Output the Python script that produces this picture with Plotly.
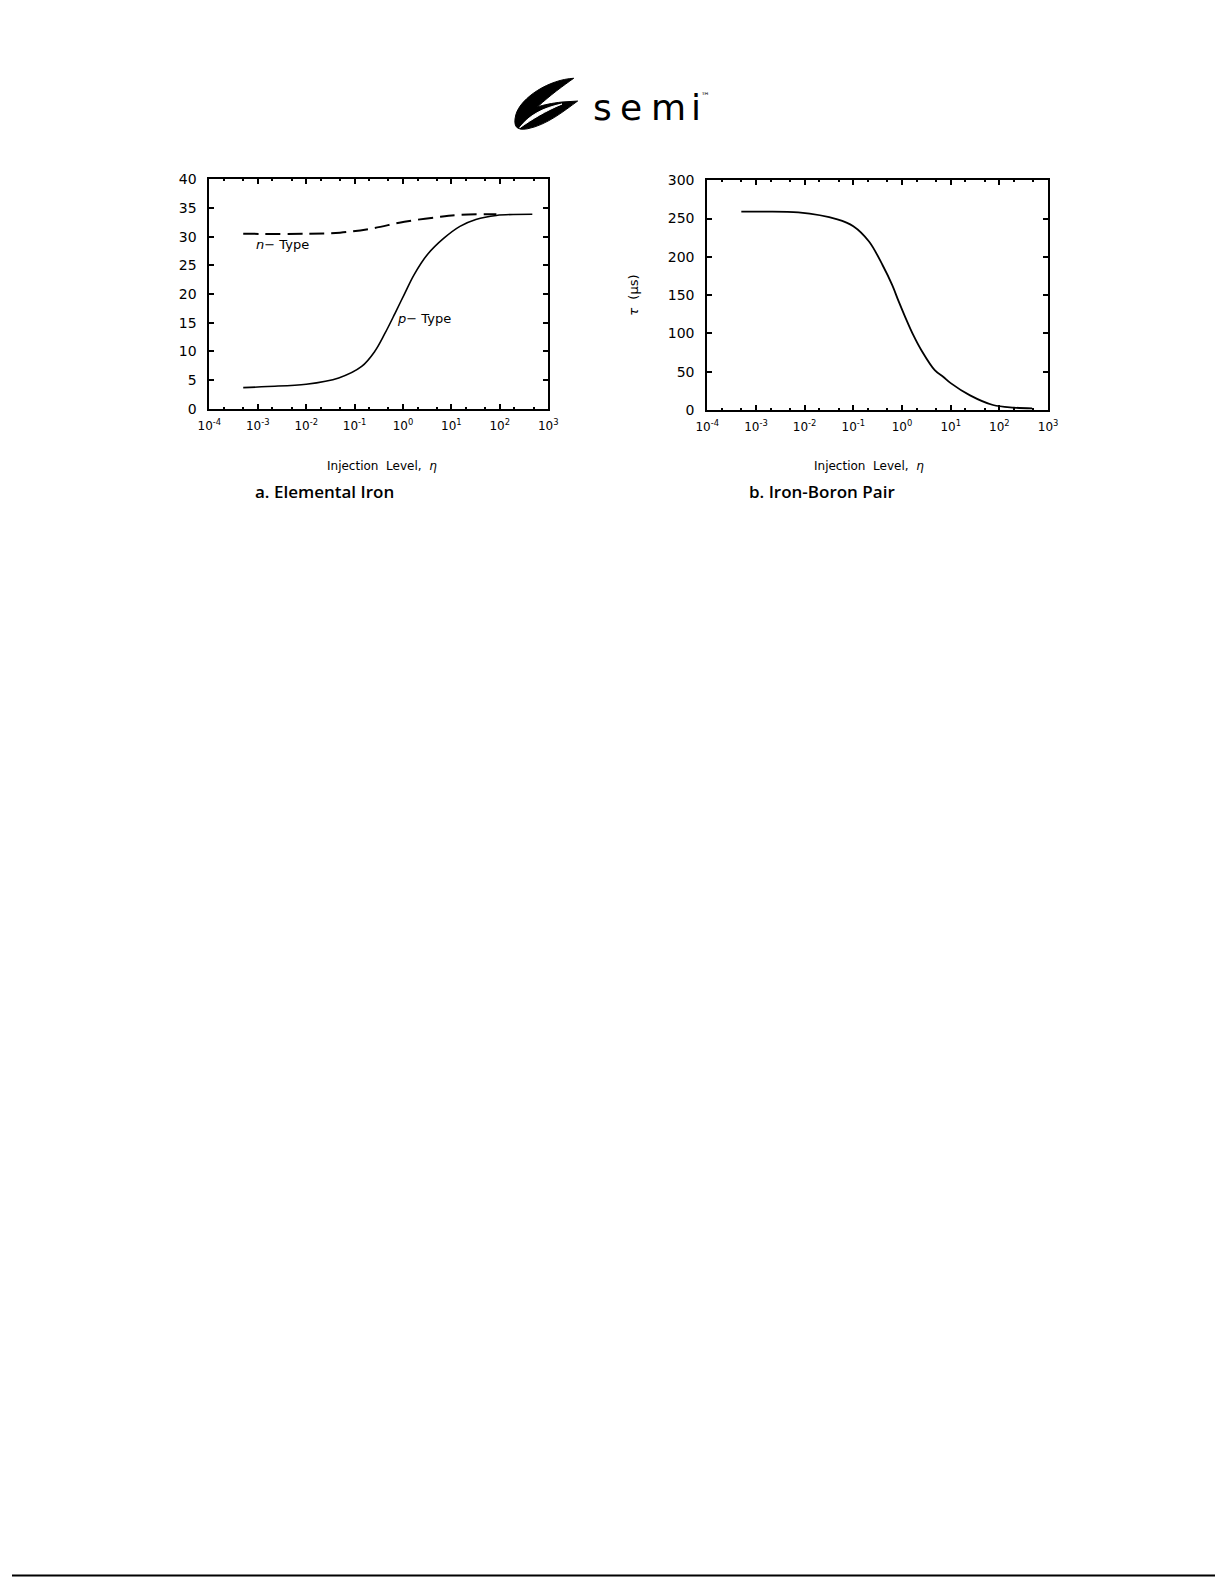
import plotly.graph_objects as go

W, H = 1225, 1585

# data
decades = [1e-4, 1e-3, 1e-2, 1e-1, 1e0, 1e1, 1e2, 1e3]
decade_labels = ['10<sup>-4</sup>', '10<sup>-3</sup>', '10<sup>-2</sup>', '10<sup>-1</sup>',
                 '10<sup>0</sup>', '10<sup>1</sup>', '10<sup>2</sup>', '10<sup>3</sup>']

# a. elemental iron, p-type (solid)
eta_p = [5e-4, 1.6e-3, 0.01, 0.047, 0.14, 0.26, 0.42, 0.68, 1.07, 1.7, 3.2, 6.9, 15, 32, 85, 470]
tau_p = [3.7, 3.9, 4.3, 5.4, 7.4, 10.0, 13.1, 16.6, 20.0, 23.4, 26.9, 29.7, 31.8, 33.0, 33.7, 33.9]

# a. elemental iron, n-type (dashed)
eta_n = [5e-4, 0.01, 0.05, 0.22, 1.07, 5.1, 15, 85]
tau_n = [30.5, 30.5, 30.7, 31.4, 32.6, 33.4, 33.8, 33.9]

# b. iron-boron pair
eta_fb = [5e-4, 1e-3, 7.4e-3, 0.047, 0.1, 0.21, 0.4, 0.63, 0.85, 1.17, 1.7, 2.5, 4.7, 7.1, 10, 25, 74, 200, 470]
tau_fb = [259, 259, 258, 249, 240, 220, 189, 163, 142, 121, 98, 78, 52, 43, 35, 19, 6.4, 3, 2]

FONT = 'DejaVu Sans'


def px(x):
    return x / W


def py(y):
    return 1 - y / H


fig = go.Figure()

fig.add_trace(go.Scatter(x=eta_n, y=tau_n, mode='lines', xaxis='x', yaxis='y',
                         line=dict(color='black', width=2, dash='15px,7px', shape='spline', smoothing=1)))
fig.add_trace(go.Scatter(x=eta_p, y=tau_p, mode='lines', xaxis='x', yaxis='y',
                         line=dict(color='black', width=1.6, shape='spline', smoothing=1)))
fig.add_trace(go.Scatter(x=eta_fb, y=tau_fb, mode='lines', xaxis='x2', yaxis='y2',
                         line=dict(color='black', width=1.8, shape='spline', smoothing=1)))

xax = dict(type='log', range=[-4, 3], tickvals=decades, ticktext=decade_labels,
           showline=True, linecolor='black', linewidth=2, mirror='ticks',
           ticks='inside', ticklen=5, tickwidth=1.5, tickcolor='black',
           minor=dict(ticks='inside', ticklen=2, tickcolor='black', showgrid=False),
           showgrid=False, zeroline=False, ticklabelstandoff=5,
           tickfont=dict(family=FONT, size=12, color='black'))
yax = dict(showline=True, linecolor='black', linewidth=2, mirror='ticks',
           ticks='inside', ticklen=5, tickwidth=1.5, tickcolor='black',
           showgrid=False, zeroline=False, ticklabelstandoff=8,
           tickfont=dict(family=FONT, size=14, color='black'))

fig.update_layout(
    width=W, height=H,
    margin=dict(l=0, r=0, t=0, b=0),
    paper_bgcolor='white', plot_bgcolor='white',
    showlegend=False,
    xaxis=dict(xax, domain=[px(201), px(546)], anchor='y'),
    yaxis=dict(yax, domain=[py(405), py(173)], anchor='x', range=[0, 40], dtick=5),
    xaxis2=dict(xax, domain=[px(708), px(1055)], anchor='y2'),
    yaxis2=dict(yax, domain=[py(406), py(174)], anchor='x2', range=[0, 300], dtick=50),
)

ann = []


def text(x, y, s, size, xanchor='center', angle=0, family=FONT, weight=None):
    f = dict(family=family, size=size, color='black')
    if weight:
        f['weight'] = weight
    ann.append(dict(x=px(x), y=py(y), xref='paper', yref='paper', text=s, showarrow=False,
                    xanchor=xanchor, yanchor='middle', textangle=angle, font=f))


text(246, 239, '<i>n</i>\u2212 Type', 13, xanchor='left')
text(390, 314, '<i>p</i>\u2212 Type', 13, xanchor='left')
text(377, 463, 'Injection  Level,  <i>\u03b7</i>', 12)
text(873, 463, 'Injection  Level,  <i>\u03b7</i>', 12)
text(245, 488, 'a. Elemental Iron', 17, xanchor='left', family='Open Sans', weight=600)
text(748, 488, 'b. Iron-Boron Pair', 17, xanchor='left', family='Open Sans', weight=600)
text(632, 290, '<i>\u03c4</i>  (\u03bcs)', 13, angle=-90)

# logo
for ch, cx in zip('semi', [601, 630, 669, 697]):
    text(cx, 101, ch, 36, family='DejaVu Sans')
text(706, 89, '\u2122', 9)
fig.update_layout(annotations=ann)


def path(points):
    out = []
    for cmd, pts in points:
        coords = ' '.join('%.5f,%.5f' % (px(a), py(b)) for a, b in pts)
        out.append(cmd + ' ' + coords)
    return ' '.join(out) + ' Z'


swoosh = path([('M', [(572, 71)]),
               ('C', [(548, 72), (518, 90), (513, 108)]),
               ('C', [(510, 120), (514, 124), (525, 122)]),
               ('C', [(545, 118), (562, 104), (576, 94)]),
               ('L', [(560, 95)]),
               ('C', [(550, 96), (541, 98), (535, 100)]),
               ('C', [(548, 88), (562, 78), (572, 71)])])
slit = path([('M', [(517, 121)]),
             ('C', [(526, 109), (540, 101), (560, 97)]),
             ('C', [(543, 104), (530, 112), (517, 121)])])
fig.add_shape(type='path', path=swoosh, xref='paper', yref='paper',
              fillcolor='black', line=dict(color='black', width=1))
fig.add_shape(type='path', path=slit, xref='paper', yref='paper',
              fillcolor='white', line=dict(color='white', width=1))

# page rule at the bottom
fig.add_shape(type='line', xref='paper', yref='paper', x0=0, x1=1, y0=py(1583.5), y1=py(1583.5),
              line=dict(color='black', width=2))

fig.write_html('out.html', config={'displayModeBar': False},
               post_script="document.body.style.margin='0';"
                           "document.body.style.overflow='hidden';"
                           "document.documentElement.style.overflow='hidden';")
